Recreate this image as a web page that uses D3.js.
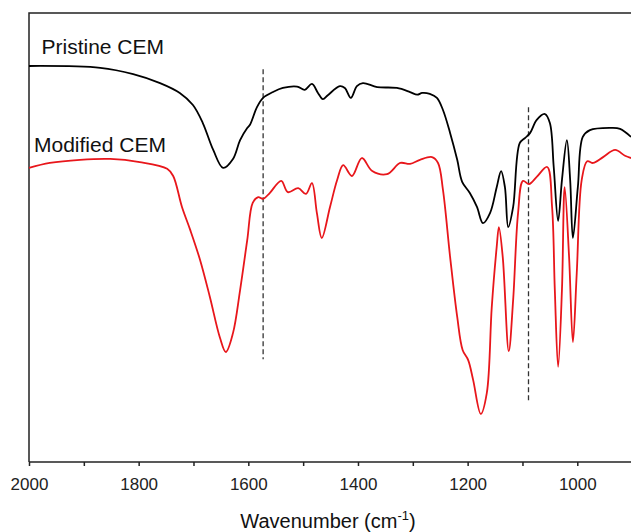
<!DOCTYPE html>
<meta charset="utf-8">
<style>
  body { margin: 0; background: #fff; }
  svg { display: block; font-family: "Liberation Sans", Arial, sans-serif; }
  .axis path, .axis line { stroke: #222; stroke-width: 1.5; fill: none; }
  .axis text { font-size: 17px; fill: #222; }
  .frame { stroke: #222; stroke-width: 1.5; fill: none; }
</style>
<body>
<script src="https://cdnjs.cloudflare.com/ajax/libs/d3/7.8.5/d3.min.js"></script>
<script>
// wavenumber (cm-1), transmittance (a.u.)
var pristineWn = [2000,1870,1810,1761,1725,1701,1683,1664,1646,1628,1615,1602,1597,1584,1573,1555,1537,1511,1497,1484,1473,1464,1455,1433,1424,1413,1402,1391,1365,1329,1305,1292,1283,1269,1256,1245,1232,1219,1210,1196,1183,1172,1159,1147,1139,1132,1126,1117,1105,1095,1086,1074,1059,1050,1043,1035,1028,1019,1013,1008,999,990,977,940,922,902];
var pristineT  = [88.2,87.8,86.4,84.4,82.2,79.5,75.5,69.5,65.5,67.5,71.7,74.4,75.1,79.1,81.1,82.4,83.3,83.6,82.9,84.2,82.2,80.8,81.7,83.7,83.3,81.1,83.7,84.4,83.5,83.3,82.4,81.8,82.2,82.0,81.1,78.4,73.3,67.3,62.4,59.9,56.8,53.2,55.5,61.2,64.8,61.2,52.3,56.8,71.0,72.2,73.3,76.2,77.5,75.5,65.7,53.7,62.8,71.7,62.8,49.9,61.2,72.4,73.9,74.4,74.2,72.4];

var modifiedWn = [2000,1962,1907,1852,1798,1748,1737,1721,1706,1688,1670,1652,1641,1628,1615,1602,1592,1582,1573,1561,1540,1528,1509,1495,1484,1475,1466,1451,1438,1427,1411,1393,1374,1347,1323,1305,1287,1265,1254,1245,1232,1219,1209,1199,1190,1176,1165,1156,1147,1143,1136,1125,1117,1108,1099,1088,1074,1055,1046,1041,1035,1028,1023,1015,1008,1001,992,982,971,953,931,913,902];
var modifiedT  = [65.5,66.6,67.3,67.5,66.8,65.3,63.7,56.8,51.7,45.0,36.7,27.8,24.5,28.7,38.3,49.4,57.7,59.0,58.6,59.9,62.6,60.1,61.0,59.7,62.1,55.5,49.9,56.8,62.8,66.1,63.7,67.7,64.8,64.1,66.6,66.4,67.3,67.9,66.6,60.6,45.7,32.3,24.9,22.7,18.3,10.7,15.4,34.5,47.9,52.3,45.7,24.7,36.1,55.5,62.6,61.9,63.5,65.7,56.8,38.3,21.2,38.3,61.2,45.7,26.7,42.1,62.8,67.0,66.6,67.9,69.5,68.2,67.7];

var majorTicks = [2000,1800,1600,1400,1200,1000];
var minorTicks = [1900,1700,1500,1300,1100,900];
var markers = [1573,1089];

var W = 631, H = 532;
var x = d3.scaleLinear().domain([2000, 1000]).range([29, 577.3]);
var y = d3.scaleLinear().domain([0, 100]).range([462, 13]);
var xEnd = x(850);

var svg = d3.select("body").append("svg")
  .attr("width", W).attr("height", H);

// frame: left, top, bottom (right side runs off the picture)
svg.append("path").attr("class", "frame")
  .attr("d", "M" + xEnd + "," + y(100) + "H" + x(2000) + "V" + y(0));

var xAxis = d3.axisBottom(x)
  .tickValues(majorTicks.concat(minorTicks))
  .tickSize(4)
  .tickFormat(function (d) { return majorTicks.indexOf(d) >= 0 ? d : ""; });

var gx = svg.append("g")
  .attr("class", "axis")
  .attr("transform", "translate(0," + y(0) + ")")
  .call(xAxis);
gx.select(".domain").attr("d", "M" + x(2000) + ",0H" + xEnd);
gx.selectAll("text").attr("y", 13).attr("dy", "0.9em");

// dashed markers
svg.selectAll(".marker")
  .data([[markers[0], 87.5, 22.9], [markers[1], 79, 13.4]])
  .enter().append("line")
  .attr("x1", function (d) { return x(d[0]); })
  .attr("x2", function (d) { return x(d[0]); })
  .attr("y1", function (d) { return y(d[1]); })
  .attr("y2", function (d) { return y(d[2]); })
  .attr("stroke", "#333")
  .attr("stroke-width", 1.3)
  .attr("stroke-dasharray", "5,3");

var line = d3.line()
  .x(function (d) { return x(d[0]); })
  .y(function (d) { return y(d[1]); })
  .curve(d3.curveCatmullRom.alpha(0.5));

svg.append("path")
  .datum(d3.zip(pristineWn, pristineT))
  .attr("fill", "none").attr("stroke", "#000").attr("stroke-width", 1.8)
  .attr("d", line);

svg.append("path")
  .datum(d3.zip(modifiedWn, modifiedT))
  .attr("fill", "none").attr("stroke", "#e8161b").attr("stroke-width", 1.8)
  .attr("d", line);

// labels
svg.append("text").attr("x", 41.5).attr("y", 54)
  .attr("font-size", 21).attr("fill", "#111").text("Pristine CEM");
svg.append("text").attr("x", 34).attr("y", 152)
  .attr("font-size", 21).attr("fill", "#111").text("Modified CEM");

var title = svg.append("text")
  .attr("x", 328).attr("y", 528)
  .attr("text-anchor", "middle")
  .attr("font-size", 20).attr("fill", "#111");
title.append("tspan").text("Wavenumber (cm");
title.append("tspan").attr("font-size", 13).attr("dy", -8).text("-1");
title.append("tspan").attr("dy", 8).text(")");
</script>
</body>
